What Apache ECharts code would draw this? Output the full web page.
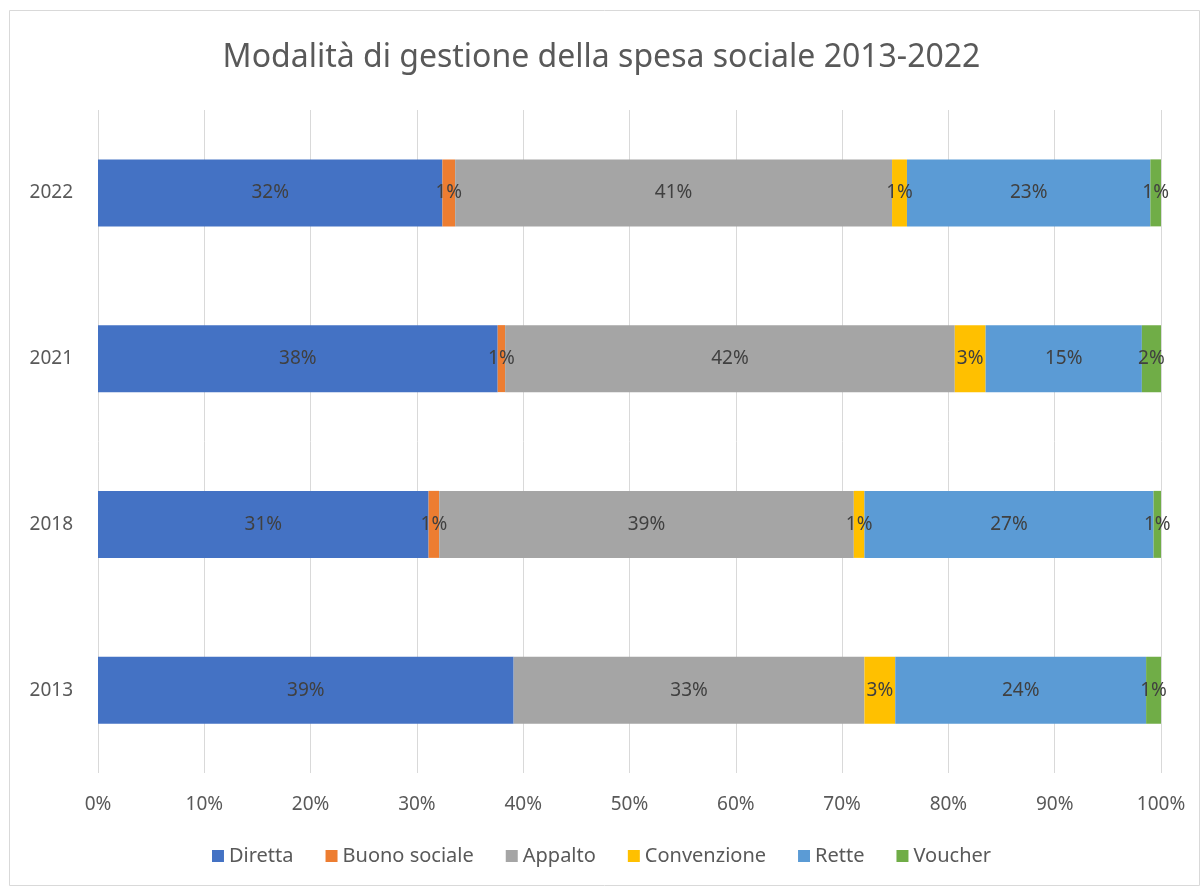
<!DOCTYPE html>
<html><head><meta charset="utf-8">
<script src="https://cdn.jsdelivr.net/npm/echarts@6/dist/echarts.min.js"></script>
<style>html,body{margin:0;padding:0;background:#fff}#c{width:1203px;height:889px}</style>
</head><body><div id="c"></div>
<script>
const categories = ['2013','2018','2021','2022'];
const seriesNames = ['Diretta','Buono sociale','Appalto','Convenzione','Rette','Voucher'];
const diretta = [39.1, 31.1, 37.6, 32.4];
const buonoSociale = [0, 1.0, 0.7, 1.2];
const appalto = [33.0, 39.0, 42.3, 41.1];
const convenzione = [2.9, 1.0, 2.9, 1.4];
const rette = [23.6, 27.2, 14.7, 22.9];
const voucher = [1.4, 0.7, 1.8, 1.0];
const xTicks = [0,10,20,30,40,50,60,70,80,90,100];
const colors = ['#4472C4','#ED7D31','#A5A5A5','#FFC000','#5B9BD5','#70AD47'];
const values = [diretta, buonoSociale, appalto, convenzione, rette, voucher];
const FONT = 'Noto Sans';
const chart = echarts.init(document.getElementById('c'));
chart.setOption({
  animation:false,
  textStyle:{fontFamily:FONT},
  graphic:[{type:'rect',shape:{x:9.5,y:10.5,width:1190,height:875},style:{fill:'none',stroke:'#d9d9d9',lineWidth:1},silent:true}],
  title:{text:'Modalità di gestione della spesa sociale 2013-2022',left:'center',top:37,
    textStyle:{fontFamily:FONT,fontSize:32,fontWeight:'normal',color:'#595959'}},
  legend:{bottom:18,left:'center',itemWidth:12,itemHeight:12,itemGap:32,icon:'rect',
    textStyle:{fontFamily:FONT,fontSize:20,color:'#595959'},data:seriesNames},
  grid:{left:98,top:110,width:1063,height:663,containLabel:false},
  xAxis:{type:'value',min:0,max:100,interval:10,
    axisLine:{show:false},axisTick:{show:false},
    splitLine:{show:true,lineStyle:{color:'#d9d9d9',width:1}},
    axisLabel:{color:'#595959',fontSize:19,fontFamily:FONT,margin:22,formatter:v=>v+'%'}},
  yAxis:{type:'category',data:categories,
    axisLine:{show:false},axisTick:{show:false},splitLine:{show:false},
    axisLabel:{color:'#595959',fontSize:19,fontFamily:FONT,margin:25}},
  series: seriesNames.map((n,i)=>({
    name:n,type:'bar',stack:'tot',barWidth:67,
    itemStyle:{color:colors[i]},
    data:values[i],
    label:{show:true,position:'inside',color:'#404040',fontSize:19,fontFamily:FONT,
      formatter:p=>p.value>0?Math.round(p.value)+'%':''}
  }))
});
</script></body></html>
